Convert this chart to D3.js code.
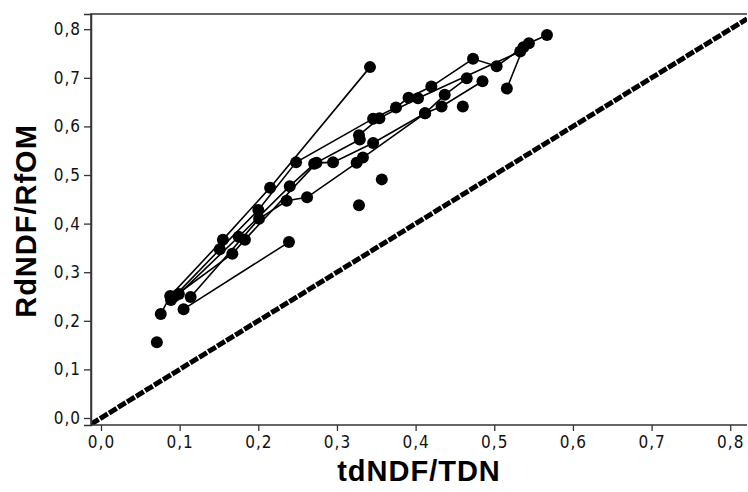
<!DOCTYPE html>
<html>
<head>
<meta charset="utf-8">
<script src="https://cdn.jsdelivr.net/npm/d3@7"></script>
<style>
  html, body { margin: 0; padding: 0; background: #fff; }
  svg { display: block; }
</style>
</head>
<body>
<svg id="chart" width="748" height="492"></svg>
<script>
// ---- data (tdNDF/TDN, RdNDF/RfOM) ----
const xTicks = [0, 0.1, 0.2, 0.3, 0.4, 0.5, 0.6, 0.7, 0.8];
const yTicks = [0, 0.1, 0.2, 0.3, 0.4, 0.5, 0.6, 0.7, 0.8];
const xTitle = "tdNDF/TDN";
const yTitle = "RdNDF/RfOM";

const seriesA = [[0.076,0.214],[0.088,0.251],[0.155,0.367],[0.215,0.474],[0.342,0.722]];
const seriesB = [[0.105,0.224],[0.239,0.362]];
const seriesC = [[0.089,0.243],[0.151,0.347],[0.200,0.428],[0.248,0.526],[0.346,0.616],[0.375,0.639],[0.391,0.659],[0.420,0.682],[0.473,0.739],[0.503,0.724],[0.544,0.771],[0.567,0.788]];
const seriesD = [[0.099,0.255],[0.175,0.373],[0.240,0.477],[0.271,0.523],[0.329,0.573],[0.328,0.582],[0.354,0.617],[0.403,0.658],[0.533,0.754],[0.537,0.763],[0.516,0.678]];
const seriesE = [[0.114,0.249],[0.201,0.410],[0.236,0.447],[0.262,0.454],[0.325,0.525],[0.333,0.536],[0.412,0.627],[0.437,0.665],[0.465,0.699]];
const seriesF = [[0.093,0.250],[0.167,0.338],[0.183,0.367],[0.274,0.525],[0.295,0.526],[0.346,0.566],[0.412,0.627],[0.433,0.641],[0.485,0.693]];
const singles = [[0.071,0.156],[0.328,0.438],[0.357,0.491],[0.460,0.641]];
const allSeries = [seriesA, seriesB, seriesC, seriesD, seriesE, seriesF];

// ---- layout ----
const L = 91, R = 747, T = 14, B = 425;
const svg = d3.select("#chart");
const x = d3.scaleLinear().domain([-0.0127, 0.8213]).range([L, R]);
const y = d3.scaleLinear().domain([-0.0144, 0.8313]).range([B, T]);
const fmt = d => d3.format(".1f")(d).replace(".", ",");

svg.append("clipPath").attr("id", "plotclip")
  .append("rect").attr("x", L).attr("y", T).attr("width", R - L).attr("height", B - T);

// reference line y = x
const dom = x.domain();
svg.append("line")
  .attr("clip-path", "url(#plotclip)")
  .attr("x1", x(dom[0])).attr("y1", y(dom[0]))
  .attr("x2", x(dom[1])).attr("y2", y(dom[1]))
  .attr("stroke", "#000").attr("stroke-width", 5)
  .attr("stroke-dasharray", "9,1.6");

// series lines
const line = d3.line().x(d => x(d[0])).y(d => y(d[1]));
svg.append("g").selectAll("path").data(allSeries).join("path")
  .attr("d", line).attr("fill", "none")
  .attr("stroke", "#000").attr("stroke-width", 1.6);

// points
const pts = allSeries.flat().concat(singles);
svg.append("g").selectAll("circle").data(pts).join("circle")
  .attr("cx", d => x(d[0])).attr("cy", d => y(d[1])).attr("r", 6)
  .attr("fill", "#000");

// frame
svg.append("path")
  .attr("d", `M${L},${B}V${T}H${R}`)
  .attr("fill", "none").attr("stroke", "#333").attr("stroke-width", 1.5);

// axes
const xAxis = svg.append("g").attr("transform", `translate(0,${B})`)
  .call(d3.axisBottom(x).tickValues(xTicks).tickFormat(fmt).tickSize(6).tickPadding(5));
const yAxis = svg.append("g").attr("transform", `translate(${L},0)`)
  .call(d3.axisLeft(y).tickValues(yTicks).tickFormat(fmt).tickSize(7).tickPadding(3));
[xAxis, yAxis].forEach(g => {
  g.select(".domain").attr("stroke", "#333").attr("stroke-width", 1.5);
  g.selectAll(".tick line").attr("stroke", "#333").attr("stroke-width", 1.3);
  g.selectAll("text").attr("fill", "#111")
    .style("font-family", "'Liberation Sans Narrow', 'DejaVu Sans Condensed', sans-serif")
    .style("font-size", "17px").style("letter-spacing", "1px");
});
xAxis.select(".domain").attr("d", `M${L},0H${R}`);

// titles
svg.append("text").text(xTitle)
  .attr("x", (L + R) / 2).attr("y", 481)
  .attr("text-anchor", "middle")
  .style("font-family", "'Liberation Sans', Arial, sans-serif")
  .style("font-weight", "bold").style("font-size", "29px").style("letter-spacing", "1px");
svg.append("text").text(yTitle)
  .attr("transform", `translate(36,221) rotate(-90)`)
  .attr("text-anchor", "middle")
  .style("font-family", "'Liberation Sans', Arial, sans-serif")
  .style("font-weight", "bold").style("font-size", "29px").style("letter-spacing", "1px");
</script>
</body>
</html>
